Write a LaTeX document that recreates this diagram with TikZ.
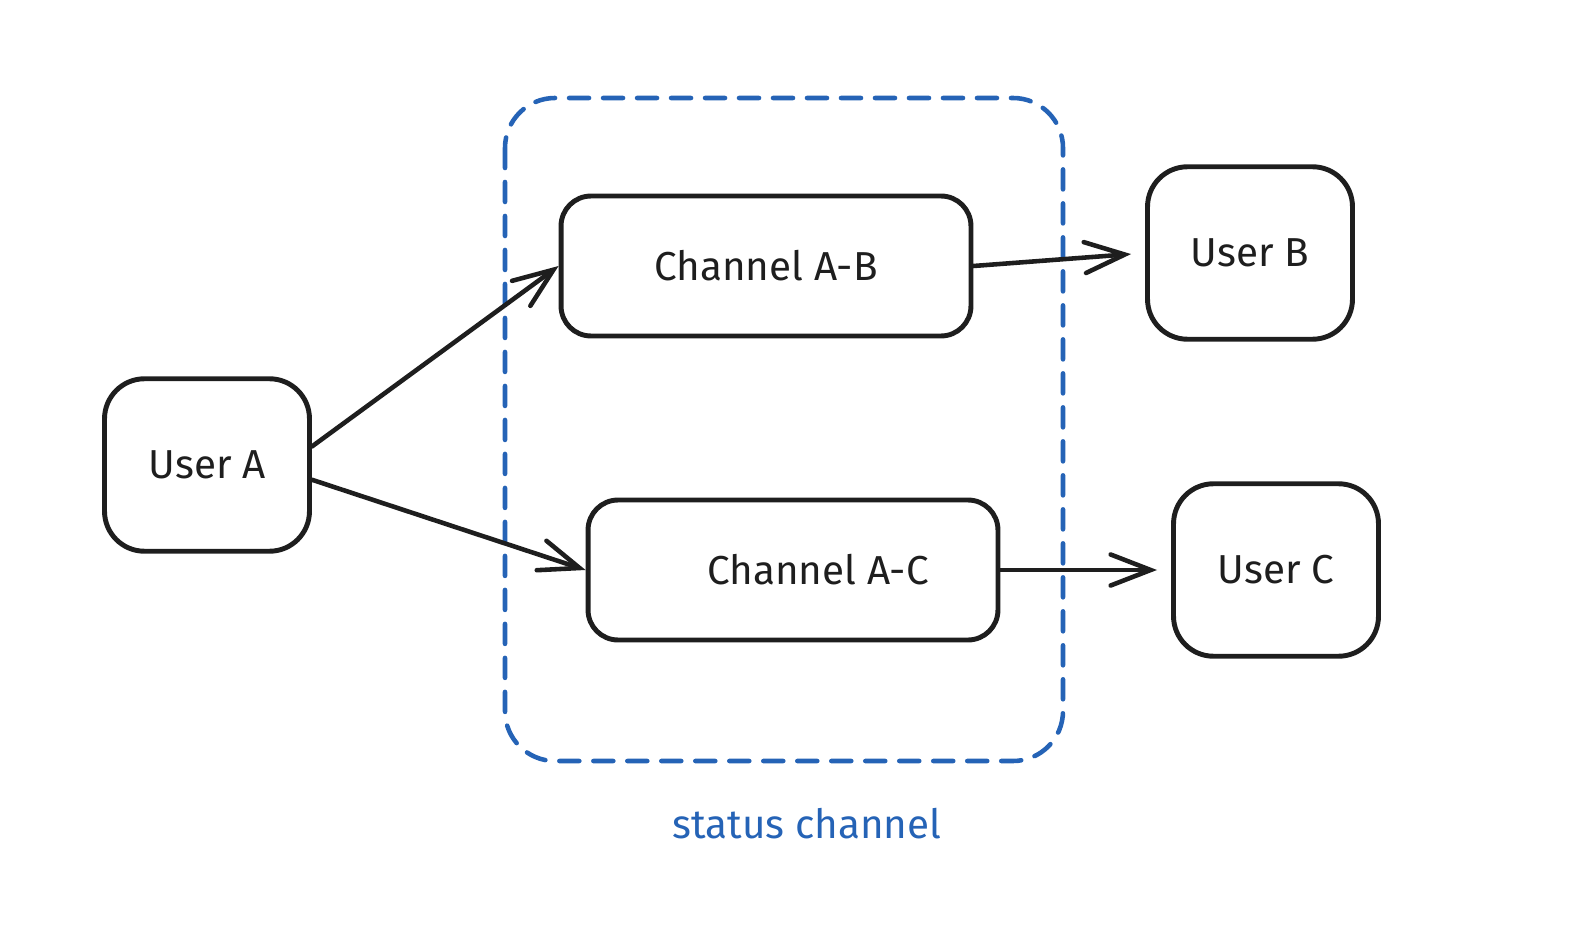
\documentclass[tikz,border=0pt]{standalone}
\usepackage{fontspec}
\setmainfont{Fira Sans}
\usetikzlibrary{arrows.meta}
\definecolor{statusblue}{HTML}{2563B6}
\definecolor{inkblack}{HTML}{1E1E1E}
\begin{document}
\begin{tikzpicture}[x=0.02cm,y=-0.02cm]
                \tikzstyle{userbox}=[rectangle,draw=inkblack,line width=2.8pt,rounded corners=0.8cm,minimum width=4.1cm,minimum height=3.45cm,font=\fontsize{23}{27}\selectfont,text=inkblack]
                \tikzstyle{chanbox}=[rectangle,draw=inkblack,line width=2.8pt,rounded corners=0.6cm,minimum width=8.2cm,minimum height=2.8cm,font=\fontsize{23}{27}\selectfont,text=inkblack]
                \tikzstyle{link}=[draw=inkblack,line width=2.6pt,line cap=round,-{Straight Barb[length=0.8cm,width=0.62cm,line cap=round]}]
                \useasboundingbox (0,0) rectangle (1592,942);
                % status channel group
                \draw[statusblue,line width=2.6pt,line cap=round,dash pattern=on 0.4cm off 0.28cm,rounded corners=1cm] (505,98) rectangle (1063,761);
                \node[text=statusblue,font=\fontsize{23}{27}\selectfont] (statuslabel) at (807,824) {status channel};
                % users and channels
                \node[userbox] (usera) at (207,465) {User A};
                \node[chanbox] (chanab) at (766,266) {Channel A-B};
                \node[chanbox] (chanac) at (793,570) {\hspace*{1cm}Channel A-C};
                \node[userbox] (userb) at (1250,253) {User B};
                \node[userbox] (userc) at (1276,570) {User C};
                % links
                \draw[link] (usera.10) -- (chanab.west);
                \draw[link] (usera.-8) -- (chanac.west);
                \draw[link,shorten >=8pt] (chanab.east) -- (userb.west);
                \draw[link,shorten >=8pt] (chanac.east) -- (userc.west);
\end{tikzpicture}
\end{document}
